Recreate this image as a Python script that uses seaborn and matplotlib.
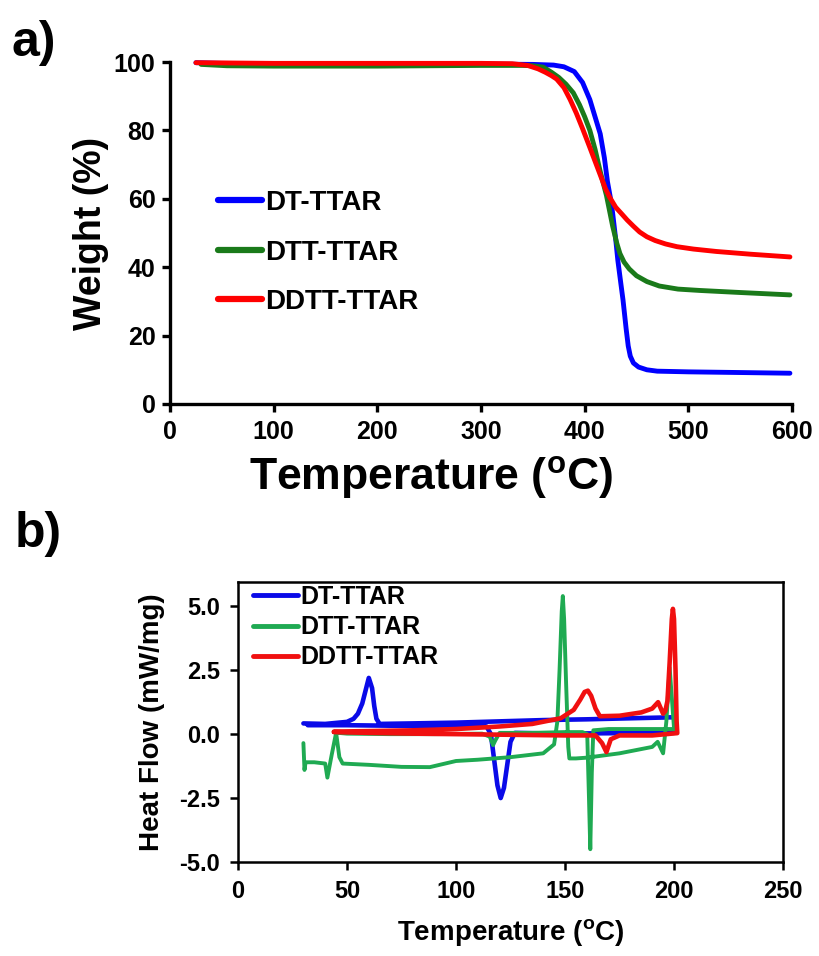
import matplotlib
matplotlib.use("Agg")
import matplotlib.pyplot as plt
import seaborn as sns
import pandas as pd

# ---------------- TGA data (panel a) ----------------
tga_labels = ["DT-TTAR", "DTT-TTAR", "DDTT-TTAR"]

dt_tga_temp = [25, 50, 100, 200, 300, 350, 370, 380, 390, 398, 405, 410, 415,
               419, 422, 425, 427, 430, 432, 435, 437, 440, 442, 444, 447, 452,
               460, 470, 500, 550, 598]
dt_tga_wt = [99.8, 99.6, 99.5, 99.4, 99.4, 99.3, 99.1, 98.6, 97.2, 94.0, 89.0,
             84.0, 79.0, 72.0, 65.0, 60.0, 55.8, 48.0, 42.0, 35.0, 30.4, 22.0,
             17.0, 14.0, 12.0, 10.8, 10.0, 9.6, 9.4, 9.2, 9.0]

dtt_tga_temp = [30, 55, 100, 200, 300, 340, 350, 360, 368, 375, 382, 389, 395,
                400, 405, 410, 415, 421, 427, 431, 434, 438, 443, 450, 460, 472,
                490, 511, 550, 598]
dtt_tga_wt = [99.3, 98.9, 98.8, 98.8, 99.0, 99.0, 98.9, 98.5, 97.0, 95.5, 93.5,
              91.0, 87.5, 84.0, 80.0, 74.5, 68.0, 61.0, 52.0, 47.0, 44.0, 41.5,
              39.5, 37.5, 35.8, 34.5, 33.6, 33.2, 32.6, 31.9]

ddtt_tga_temp = [25, 100, 200, 300, 330, 345, 355, 362, 368, 373, 380, 386, 392,
                 398, 405, 410, 415, 420, 424, 430, 436, 441, 447, 453, 460, 468,
                 478, 489, 505, 527, 560, 598]
ddtt_tga_wt = [99.8, 99.6, 99.6, 99.6, 99.5, 99.0, 98.0, 97.0, 96.0, 95.0, 92.5,
               89.0, 85.0, 80.5, 75.0, 71.0, 67.0, 63.0, 60.5, 57.5, 55.5, 53.8,
               52.0, 50.3, 48.9, 47.8, 46.8, 46.0, 45.3, 44.6, 43.8, 43.0]

# ---------------- DSC data (panel b) ----------------
# heating run followed by cooling run, kept in acquisition order
dt_dsc_temp = [30, 40, 50, 53, 55, 57, 58.5, 60, 61.5, 62.5, 63.5, 65, 80, 100,
               120, 140, 160, 180, 200, 201,
               200, 180, 160, 140, 127, 125, 123.5, 122, 120.5, 119, 117.5, 116,
               114, 110, 90, 70, 50, 32]
dt_dsc_hf = [0.42, 0.40, 0.48, 0.6, 0.8, 1.2, 1.7, 2.2, 1.8, 1.1, 0.6, 0.4,
             0.42, 0.45, 0.5, 0.55, 0.58, 0.62, 0.66, 0.1,
             0.05, 0.04, 0.03, 0.03, 0.05, -0.3, -1.2, -2.1, -2.5, -2.0, -1.0,
             0.0, 0.3, 0.35, 0.33, 0.33, 0.35, 0.35]

dtt_dsc_temp = [30, 30.5, 31, 35, 40, 41, 43, 45, 46.5, 48, 60, 75, 88, 95, 100,
                110, 125, 140, 145, 146.5, 147.5, 148.5, 149, 149.6, 150.5,
                151.5, 152, 155, 160, 175, 190, 192.5, 195, 196.5, 198, 200, 201,
                200, 185, 170, 163, 162.3, 161.6, 161, 160.2, 158, 150, 135, 120,
                118, 117, 115.5, 112, 90, 70, 50, 46]
dtt_dsc_hf = [-0.35, -1.4, -1.1, -1.1, -1.15, -1.7, -0.8, 0.05, -0.9, -1.15,
              -1.2, -1.28, -1.29, -1.15, -1.05, -1.0, -0.9, -0.75, -0.4, 0.5,
              2.5, 4.8, 5.4, 4.5, 2.0, -0.5, -0.95, -0.95, -0.92, -0.75, -0.5,
              -0.3, -0.75, 0.5, 2.6, 0.25, 0.2,
              0.2, 0.2, 0.2, 0.15, -1.5, -4.5, -2.5, 0.0, 0.08, 0.08, 0.05,
              0.05, -0.25, -0.43, -0.1, 0.02, 0.0, 0.0, 0.02, 0.05]

ddtt_dsc_temp = [44, 60, 80, 100, 120, 135, 148, 154, 157, 159, 160.5, 162, 164,
                 166, 175, 185, 190, 192.7, 195, 196, 197, 198, 199, 199.5, 200,
                 200.7, 201.2, 201.5,
                 190, 175, 171, 169, 167, 164, 150, 120, 100, 80, 60, 44]
ddtt_dsc_hf = [0.1, 0.12, 0.15, 0.2, 0.3, 0.4, 0.62, 0.95, 1.35, 1.65, 1.7, 1.5,
               1.0, 0.7, 0.72, 0.85, 1.0, 1.25, 0.8, 0.9, 1.3, 2.8, 4.5, 4.9,
               4.5, 2.5, 0.5, 0.04,
               -0.05, -0.05, -0.2, -0.7, -0.35, -0.05, -0.05, -0.02, 0.0, 0.02,
               0.05, 0.08]

tga_colors = {"DT-TTAR": "#0000ff", "DTT-TTAR": "#1a7a1a", "DDTT-TTAR": "#ff0000"}
dsc_colors = {"DT-TTAR": "#0a0ae8", "DTT-TTAR": "#1faa52", "DDTT-TTAR": "#f01010"}

# ---------------- style ----------------
sns.set_theme(style="ticks")
plt.rcParams["font.family"] = ["Liberation Sans", "DejaVu Sans"]
plt.rcParams["font.weight"] = "bold"
plt.rcParams["axes.labelweight"] = "bold"
for key in ("text.color", "axes.labelcolor", "xtick.color", "ytick.color",
            "axes.edgecolor"):
    plt.rcParams[key] = "black"
plt.rcParams["mathtext.fontset"] = "custom"
plt.rcParams["mathtext.rm"] = "Liberation Sans:bold"
plt.rcParams["mathtext.it"] = "Liberation Sans:bold"
plt.rcParams["mathtext.bf"] = "Liberation Sans:bold"

W, H = 820, 956
fig = plt.figure(figsize=(W / 100, H / 100), dpi=100)


def fig_rect(left, top, right, bottom):
    return [left / W, 1 - bottom / H, (right - left) / W, (bottom - top) / H]


# ---------------- panel a: TGA ----------------
tga = pd.concat([
    pd.DataFrame({"T": dt_tga_temp, "W": dt_tga_wt, "sample": tga_labels[0]}),
    pd.DataFrame({"T": dtt_tga_temp, "W": dtt_tga_wt, "sample": tga_labels[1]}),
    pd.DataFrame({"T": ddtt_tga_temp, "W": ddtt_tga_wt, "sample": tga_labels[2]}),
], ignore_index=True)

ax1 = fig.add_axes(fig_rect(170, 62, 792, 404))
sns.lineplot(data=tga, x="T", y="W", hue="sample", hue_order=tga_labels,
             palette=tga_colors, sort=False, estimator=None, linewidth=3.5,
             ax=ax1, legend=False)
for ln in ax1.get_lines():
    ln.set_clip_on(False)
    ln.set_solid_capstyle("round")
    ln.set_solid_joinstyle("round")
ax1.set_xlim(0, 600)
ax1.set_ylim(0, 100)
ax1.set_xticks(range(0, 601, 100))
ax1.set_yticks(range(0, 101, 20))
sns.despine(ax=ax1)
for s in ("left", "bottom"):
    ax1.spines[s].set_linewidth(2.4)
    ax1.spines[s].set_color("black")
ax1.tick_params(direction="out", length=5.5, width=2.4, color="black",
                labelsize=18, pad=5)
ax1.tick_params(axis="x", pad=6)
for lab in ax1.get_xticklabels() + ax1.get_yticklabels():
    lab.set_fontweight("bold")
ax1.set_xlabel("Temperature ($^{\\mathrm{o}}$C)", fontsize=32, fontweight="bold")
ax1.xaxis.set_label_coords((431 - 170) / (792 - 170), -0.145)
ax1.set_ylabel("Weight (%)", fontsize=27, fontweight="bold", labelpad=3)

handles1 = [plt.Line2D([], [], color=tga_colors[k], lw=4.5) for k in tga_labels]
fig.legend(handles1, tga_labels, loc="upper left",
           bbox_to_anchor=(218 / W, 1 - 190 / H), frameon=False,
           prop={"size": 20, "weight": "bold"}, handlelength=1.6,
           handletextpad=0.1, labelspacing=0.85, borderpad=0, borderaxespad=0)

# ---------------- panel b: DSC ----------------
dsc = pd.concat([
    pd.DataFrame({"T": dt_dsc_temp, "HF": dt_dsc_hf, "sample": tga_labels[0]}),
    pd.DataFrame({"T": dtt_dsc_temp, "HF": dtt_dsc_hf, "sample": tga_labels[1]}),
    pd.DataFrame({"T": ddtt_dsc_temp, "HF": ddtt_dsc_hf, "sample": tga_labels[2]}),
], ignore_index=True)

ax2 = fig.add_axes(fig_rect(238, 582, 783, 862))
sns.lineplot(data=dsc, x="T", y="HF", hue="sample", hue_order=tga_labels,
             palette=dsc_colors, sort=False, estimator=None, linewidth=3.3,
             ax=ax2, legend=False)
for ln in ax2.get_lines():
    ln.set_solid_joinstyle("round")
    ln.set_solid_capstyle("round")
ax2.get_lines()[1].set_linewidth(2.8)
ax2.set_xlim(0, 250)
ax2.set_ylim(-5.0, 5.95)
ax2.set_xticks(range(0, 251, 50))
ax2.set_yticks([-5.0, -2.5, 0.0, 2.5, 5.0])
ax2.set_yticklabels(["-5.0", "-2.5", "0.0", "2.5", "5.0"])
for s in ax2.spines.values():
    s.set_linewidth(1.8)
    s.set_color("black")
ax2.tick_params(direction="out", length=6, width=1.8, color="black",
                labelsize=17, pad=7)
for lab in ax2.get_xticklabels() + ax2.get_yticklabels():
    lab.set_fontweight("bold")
ax2.set_xlabel("Temperature ($^{\\mathrm{o}}$C)", fontsize=20, fontweight="bold",
               labelpad=10)
ax2.set_ylabel("Heat Flow (mW/mg)", fontsize=20, fontweight="bold", labelpad=10)

handles2 = [plt.Line2D([], [], color=dsc_colors[k], lw=3.5) for k in tga_labels]
ax2.legend(handles2, tga_labels, loc="upper left",
           bbox_to_anchor=(253 / W, 1 - 585 / H), bbox_transform=fig.transFigure,
           frameon=False, prop={"size": 18, "weight": "bold"},
           handlelength=1.8, handletextpad=0.1, labelspacing=0.25,
           borderpad=0, borderaxespad=0)

# panel letters
fig.text(12 / W, 1 - 20 / H, "a)", fontsize=36, fontweight="bold", va="top")
fig.text(15 / W, 1 - 511 / H, "b)", fontsize=36, fontweight="bold", va="top")

fig.savefig("out.png", dpi=100, facecolor="white")
